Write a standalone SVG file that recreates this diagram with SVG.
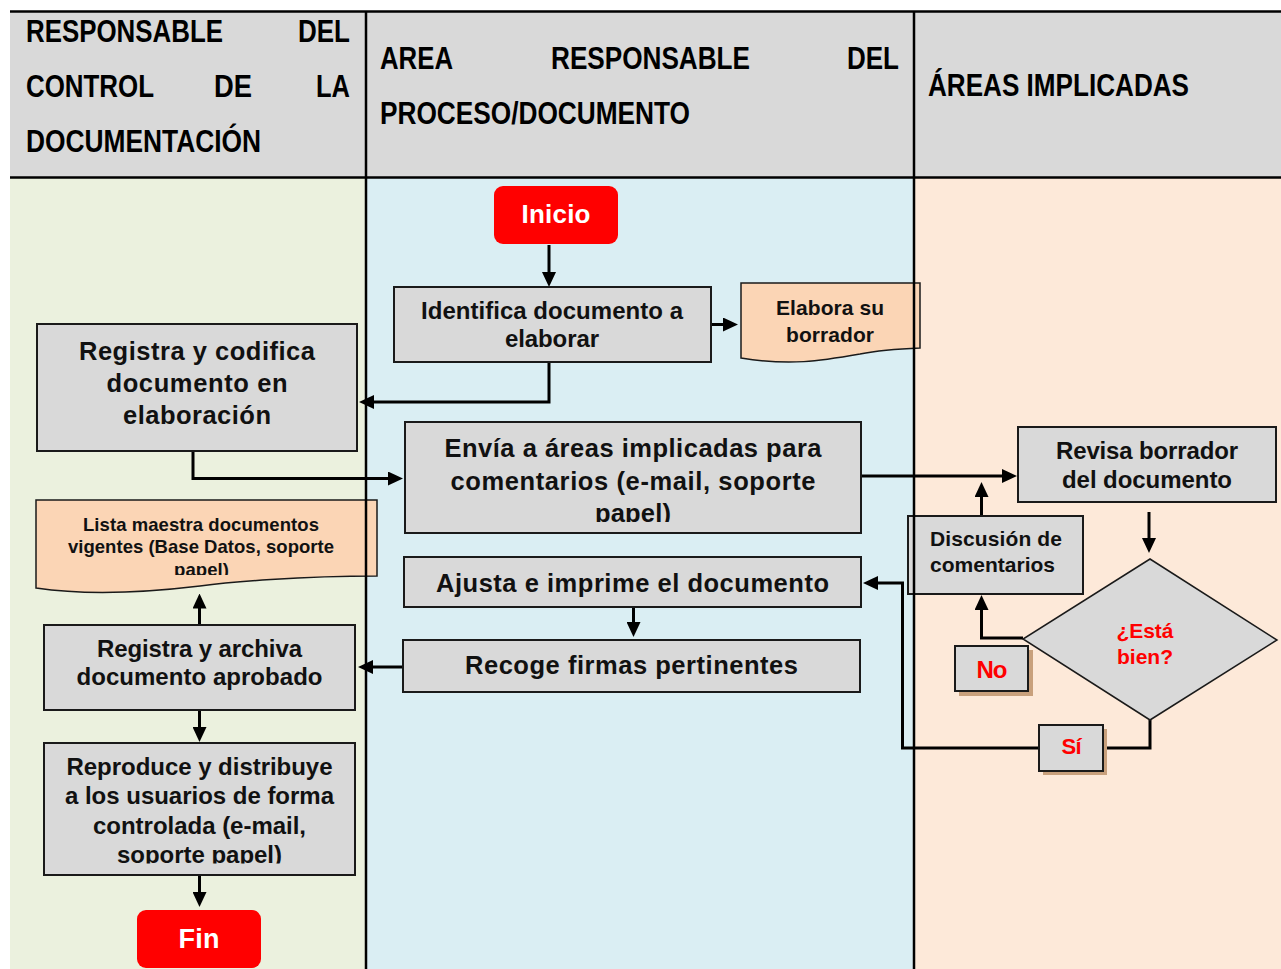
<svg xmlns="http://www.w3.org/2000/svg" width="1281" height="969" viewBox="0 0 1281 969">
<style>
.hdr{font-family:"Liberation Sans Narrow","Liberation Sans",Arial,sans-serif;font-weight:bold;font-size:32px;fill:#000}
.t{font-family:"Liberation Sans",Arial,sans-serif;font-weight:bold;fill:#111;text-anchor:middle}
.box{fill:#d9d9d9;stroke:#1a1a1a;stroke-width:2}
.doc{fill:#fbd5b5;stroke:#1a1a1a;stroke-width:1.5}
.term{fill:#ff0000}
.wt{fill:#fff}
.red{fill:#ff0000}
.conn{fill:none;stroke:#000;stroke-width:3}
.lane{stroke:#000;stroke-width:2.5}
.shadow{fill:#c8a07c}
</style>
<defs>
<marker id="ah" viewBox="0 0 15 14" refX="5" refY="7" markerWidth="15" markerHeight="14" orient="auto" markerUnits="userSpaceOnUse">
<path d="M0,0 L15,7 L0,14 Z" fill="#000"/>
</marker>
<clipPath id="clipEnvia"><rect x="405" y="422" width="456" height="100"/></clipPath>
<clipPath id="clipLista"><rect x="36" y="500" width="341" height="75"/></clipPath>
<clipPath id="clipRepro"><rect x="44" y="743" width="311" height="120.5"/></clipPath>
</defs>

<g id="background">
<rect x="10" y="11" width="1271" height="166" fill="#d9d9d9"/>
<rect x="10" y="177" width="356" height="792" fill="#ebf1de"/>
<rect x="366" y="177" width="548" height="792" fill="#daeef3"/>
<rect x="914" y="177" width="367" height="792" fill="#fde9d9"/>
</g>

<g id="headers">
<text class="hdr" x="26" y="42" textLength="197" lengthAdjust="spacingAndGlyphs">RESPONSABLE</text>
<text class="hdr" x="298" y="42" textLength="52" lengthAdjust="spacingAndGlyphs">DEL</text>
<text class="hdr" x="26" y="97" textLength="128" lengthAdjust="spacingAndGlyphs">CONTROL</text>
<text class="hdr" x="214" y="97" textLength="38" lengthAdjust="spacingAndGlyphs">DE</text>
<text class="hdr" x="316" y="97" textLength="34" lengthAdjust="spacingAndGlyphs">LA</text>
<text class="hdr" x="26" y="152" textLength="235" lengthAdjust="spacingAndGlyphs">DOCUMENTACIÓN</text>
<text class="hdr" x="380" y="68.5" textLength="73" lengthAdjust="spacingAndGlyphs">AREA</text>
<text class="hdr" x="551" y="68.5" textLength="199" lengthAdjust="spacingAndGlyphs">RESPONSABLE</text>
<text class="hdr" x="847" y="68.5" textLength="52" lengthAdjust="spacingAndGlyphs">DEL</text>
<text class="hdr" x="380" y="123.5" textLength="310" lengthAdjust="spacingAndGlyphs">PROCESO/DOCUMENTO</text>
<text class="hdr" x="928" y="96" textLength="261" lengthAdjust="spacingAndGlyphs">ÁREAS IMPLICADAS</text>
</g>

<g id="connectors">
<path class="conn" d="M549,245 V277" marker-end="url(#ah)"/>
<path class="conn" d="M712,324.5 H728" marker-end="url(#ah)"/>
<path class="conn" d="M549,362 V402 H369" marker-end="url(#ah)"/>
<path class="conn" d="M193,452 V478.5 H393" marker-end="url(#ah)"/>
<path class="conn" d="M861,476 H1007" marker-end="url(#ah)"/>
<path class="conn" d="M1149,512 V543" marker-end="url(#ah)"/>
<path class="conn" d="M1023,638 H981.5 V605" marker-end="url(#ah)"/>
<path class="conn" d="M981.5,516 V492" marker-end="url(#ah)"/>
<path class="conn" d="M1150,720 V748 H902.5 V583 H873" marker-end="url(#ah)"/>
<path class="conn" d="M633.5,607 V627" marker-end="url(#ah)"/>
<path class="conn" d="M403,667 H368" marker-end="url(#ah)"/>
<path class="conn" d="M199.5,625 V603.5" marker-end="url(#ah)"/>
<path class="conn" d="M199.5,710 V732" marker-end="url(#ah)"/>
<path class="conn" d="M199.5,875 V897" marker-end="url(#ah)"/>
</g>

<g id="inicio">
<rect class="term" x="494" y="186" width="124" height="58" rx="9"/>
<text class="t wt" x="556" y="222.5" font-size="26" textLength="69">Inicio</text>
</g>

<g id="identifica">
<rect class="box" x="394" y="287" width="317" height="75"/>
<text class="t" x="552" y="318.5" font-size="24" textLength="262">Identifica documento a</text>
<text class="t" x="552" y="347" font-size="24" textLength="94">elaborar</text>
</g>

<g id="elabora">
<path class="doc" d="M741,283 H920 V348 C895,349 880,350 860,354 C820,361 790,366 741,358 Z"/>
<text class="t" x="830" y="315" font-size="21" textLength="108">Elabora su</text>
<text class="t" x="830" y="342" font-size="21" textLength="88">borrador</text>
</g>

<g id="registra-codifica">
<rect class="box" x="37" y="324" width="320" height="127"/>
<text class="t" x="197" y="360" font-size="25.5" textLength="236">Registra y codifica</text>
<text class="t" x="197" y="392" font-size="25.5" textLength="181">documento en</text>
<text class="t" x="197" y="424" font-size="25.5" textLength="148">elaboración</text>
</g>

<g id="envia">
<rect class="box" x="405" y="422" width="456" height="111"/>
<text class="t" x="633" y="457" font-size="25.5" textLength="377">Envía a áreas implicadas para</text>
<text class="t" x="633" y="489.5" font-size="25.5" textLength="365">comentarios (e-mail, soporte</text>
<g clip-path="url(#clipEnvia)"><text class="t" x="633" y="521.5" font-size="25.5" textLength="76">papel)</text></g>
</g>

<g id="revisa">
<rect class="box" x="1018" y="427" width="258" height="75"/>
<text class="t" x="1147" y="459" font-size="24" textLength="182">Revisa borrador</text>
<text class="t" x="1147" y="487.5" font-size="24" textLength="170">del documento</text>
</g>

<g id="esta-bien">
<polygon points="1150,559 1277,640 1150,720 1023,639" fill="#d9d9d9" stroke="#1a1a1a" stroke-width="1.5"/>
<text class="t red" x="1145" y="638" font-size="21" textLength="57">¿Está</text>
<text class="t red" x="1145" y="664" font-size="21" textLength="56">bien?</text>
</g>

<g id="discusion">
<rect class="box" x="908" y="516" width="175" height="78"/>
<text class="t" x="930" y="546" font-size="21" style="text-anchor:start" textLength="132">Discusión de</text>
<text class="t" x="930" y="572" font-size="21" style="text-anchor:start" textLength="125">comentarios</text>
</g>

<g id="label-no">
<rect class="shadow" x="959" y="650" width="74" height="46"/>
<rect class="box" x="955" y="646" width="73" height="45"/>
<text class="t red" x="992" y="678" font-size="24" textLength="31">No</text>
</g>

<g id="label-si">
<rect class="shadow" x="1043" y="729" width="64" height="46"/>
<rect class="box" x="1039" y="725" width="64" height="46"/>
<text class="t red" x="1071.5" y="754" font-size="22" textLength="20">Sí</text>
</g>

<g id="ajusta">
<rect class="box" x="404" y="557" width="457" height="50"/>
<text class="t" x="632.5" y="592" font-size="25.5" textLength="393">Ajusta e imprime el documento</text>
</g>

<g id="recoge">
<rect class="box" x="403" y="640" width="457" height="52"/>
<text class="t" x="631.5" y="674" font-size="25.5" textLength="333">Recoge firmas pertinentes</text>
</g>

<g id="lista-maestra">
<path class="doc" d="M36,500 H377 V576 C300,576 230,582 200,586 C150,592 90,596 36,588 Z"/>
<text class="t" x="201" y="531" font-size="18.5" textLength="236">Lista maestra documentos</text>
<text class="t" x="201" y="553" font-size="18.5" textLength="266">vigentes (Base Datos, soporte</text>
<g clip-path="url(#clipLista)"><text class="t" x="201.5" y="575.5" font-size="18.5" textLength="55">papel)</text></g>
</g>

<g id="registra-archiva">
<rect class="box" x="44" y="625" width="311" height="85"/>
<text class="t" x="199.5" y="656.5" font-size="24" textLength="205">Registra y archiva</text>
<text class="t" x="199.5" y="685" font-size="24" textLength="246">documento aprobado</text>
</g>

<g id="reproduce">
<rect class="box" x="44" y="743" width="311" height="132"/>
<text class="t" x="199.5" y="775" font-size="24" textLength="266">Reproduce y distribuye</text>
<text class="t" x="199.5" y="804" font-size="24" textLength="269">a los usuarios de forma</text>
<text class="t" x="199.5" y="833.5" font-size="24" textLength="213">controlada (e-mail,</text>
<g clip-path="url(#clipRepro)"><text class="t" x="199.5" y="863" font-size="24" textLength="165">soporte papel)</text></g>
</g>

<g id="fin">
<rect class="term" x="137" y="910" width="124" height="58" rx="9"/>
<text class="t wt" x="199" y="948" font-size="27" textLength="41">Fin</text>
</g>

<g id="lane-lines">
<line class="lane" x1="10" y1="11.5" x2="1281" y2="11.5"/>
<line class="lane" x1="10" y1="177.5" x2="1281" y2="177.5" stroke-width="3"/>
<line class="lane" x1="366" y1="11" x2="366" y2="969"/>
<line class="lane" x1="914" y1="11" x2="914" y2="969"/>
</g>
</svg>
